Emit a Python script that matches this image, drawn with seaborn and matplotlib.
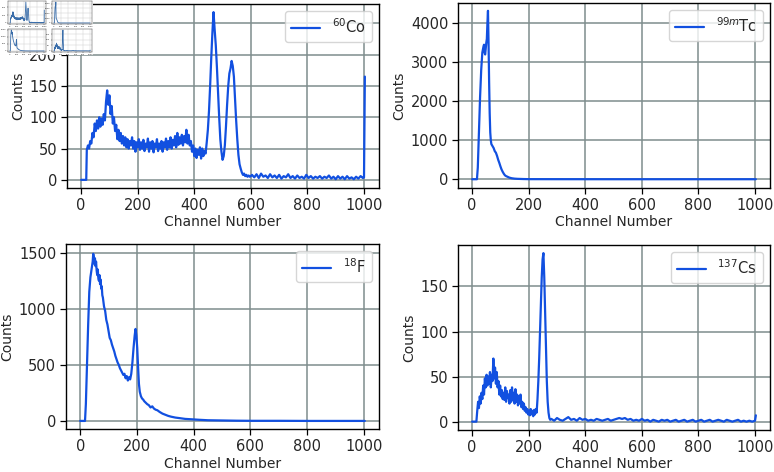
import numpy as np
import matplotlib
matplotlib.use("Agg")
import matplotlib.pyplot as plt
import seaborn as sns

# ---- Co-60 spectrum ----
co_channel = [0, 18, 20] + list(range(24, 601, 4)) + list(range(604, 1001, 8)) + [1000, 1003]
co_counts = [0, 0, 48,
             55, 50, 62, 58, 75, 68, 90, 78, 95, 82,
             100, 85, 98, 88, 105, 95, 125, 143, 120, 135,
             105, 118, 90, 100, 78, 88, 65, 80, 62, 75,
             58, 70, 55, 68, 52, 65, 50, 62, 55, 68,
             50, 62, 45, 60, 52, 65, 48, 60, 50, 64,
             46, 58, 52, 66, 45, 60, 50, 62, 44, 58,
             52, 65, 46, 58, 50, 62, 45, 60, 52, 66,
             48, 62, 52, 68, 50, 64, 55, 70, 52, 75,
             56, 68, 58, 72, 55, 70, 60, 80, 58, 72,
             55, 62, 45, 55, 38, 50, 35, 48, 40, 52,
             34, 50, 38, 46, 42, 60, 80, 110, 150, 195,
             235, 268, 240, 215, 180, 140, 100, 65, 45, 32,
             38, 55, 85, 120, 150, 170, 178, 190, 182, 165,
             130, 95, 65, 40, 25, 18, 12, 8, 10, 6,
             8, 5, 7, 5, 6,
             8, 4, 9, 3, 10, 5, 7, 3, 9, 4,
             7, 3, 8, 2, 6, 4, 9, 3, 6, 2,
             7, 3, 5, 2, 8, 3, 6, 2, 5, 3,
             6, 2, 5, 3, 7, 2, 5, 1, 6, 2,
             5, 1, 6, 2, 4, 1, 5, 2, 6, 3,
             4, 165]

# ---- Tc-99m spectrum ----
tc_channel = [0, 17, 20, 24, 28, 32, 36, 40, 42, 44, 46, 48, 50, 52, 54, 56, 58, 60, 62, 64,
              66, 68, 72, 76, 80, 84, 88, 92, 96, 100, 104, 108, 112, 116, 120, 126, 132, 140,
              150, 160, 180, 200, 300, 500, 1003]
tc_counts = [0, 0, 300, 1200, 2100, 2800, 3250, 3400, 3450, 3250, 3200, 3350, 3500, 3600, 4000,
             4320, 3500, 2500, 1700, 1200, 1000, 900, 850, 800, 720, 680, 600, 500, 420, 330,
             250, 190, 140, 100, 80, 60, 40, 25, 15, 10, 5, 2, 1, 0, 0]

# ---- F-18 spectrum ----
f_channel = [0, 17, 20, 24, 28, 32, 36, 40, 44, 46, 48, 50, 52, 54, 56, 58, 60, 62, 64, 66,
             68, 70, 72, 74, 76, 78, 80, 84, 88, 92, 96, 100, 104, 108, 112, 116, 120, 124, 128,
             132, 136, 140, 144, 148, 152, 156, 160, 164, 168, 172, 176, 180, 184, 188, 192, 195,
             198, 201, 204, 207, 210, 214, 218, 222, 226, 230, 236, 242, 248, 254, 260, 266, 272,
             280, 290, 300, 310, 320, 335, 350, 370, 390, 420, 450, 500, 550, 600, 700, 800, 1003]
f_counts = [0, 0, 150, 500, 850, 1150, 1280, 1350, 1420, 1490, 1460, 1400, 1450, 1380, 1420, 1340,
            1300, 1350, 1270, 1250, 1300, 1220, 1260, 1180, 1200, 1120, 1100, 1020, 980, 900, 860,
            800, 740, 720, 680, 650, 620, 580, 550, 520, 500, 470, 450, 430, 410, 420, 380, 400,
            360, 390, 370, 420, 520, 650, 760, 820, 760, 650, 480, 330, 260, 220, 200, 190, 175,
            165, 150, 140, 120, 130, 110, 100, 95, 80, 65, 55, 45, 38, 30, 25, 18, 15, 10, 6, 4,
            2, 1, 1, 0, 0]

# ---- Cs-137 spectrum ----
cs_channel = [0] + list(range(15, 279, 3)) + list(range(280, 1001, 10)) + [1003]
cs_counts = [0,
             0, 12, 22, 15, 28, 20, 32, 25, 40, 30,
             48, 38, 52, 40, 50, 42, 55, 38, 52, 45,
             70, 48, 60, 42, 55, 38, 45, 30, 40, 28,
             35, 25, 32, 24, 38, 22, 34, 26, 30, 20,
             35, 22, 38, 24, 32, 20, 36, 22, 30, 18,
             28, 20, 30, 16, 22, 14, 20, 12, 16, 10,
             14, 8, 12, 7, 14, 8, 12, 6, 13, 8,
             14, 10, 25, 45, 70, 100, 130, 160, 180, 187,
             160, 120, 80, 45, 22, 10, 4, 2,
             3, 1, 4, 2, 1, 3, 5, 2, 3, 1,
             4, 2, 3, 1, 2, 1, 3, 2, 1, 2,
             3, 1, 2, 3, 4, 3, 4, 2, 3, 1,
             2, 1, 3, 1, 2, 0, 2, 1, 0, 2,
             1, 2, 0, 1, 2, 0, 1, 2, 0, 1,
             2, 0, 1, 2, 0, 1, 2, 0, 1, 2,
             1, 0, 2, 1, 0, 1, 2, 0, 1, 0,
             1, 0, 1,
             7]

labels = [r"$^{60}$Co", r"$^{99m}$Tc", r"$^{18}$F", r"$^{137}$Cs"]
spectra = [(co_channel, co_counts), (tc_channel, tc_counts),
           (f_channel, f_counts), (cs_channel, cs_counts)]
ylims = [(-13, 281), (-225, 4520), (-72, 1577), (-9.3, 196)]

sns.set_theme(style="ticks")
plt.rcParams['font.family'] = ['DejaVu Sans']

W, H = 774, 472
fig = plt.figure(figsize=(W / 100, H / 100), dpi=100)
# axes boxes in pixels: left, top, right, bottom
boxes = [(67, 4, 379, 188), (458, 3, 770, 188), (66, 244, 379, 429), (458, 245, 770, 430)]

line_color = "#1250e0"
grid_color = "#7f8d8d"

for (x, y), lab, yl, (l, t, r, b) in zip(spectra, labels, ylims, boxes):
    ax = fig.add_axes([l / W, 1 - b / H, (r - l) / W, (b - t) / H])
    sns.lineplot(x=x, y=y, ax=ax, color=line_color, linewidth=1.6, label=lab,
                 estimator=None, sort=False)
    ax.set_xlim(-50, 1053)
    ax.set_ylim(*yl)
    ax.set_xticks([0, 200, 400, 600, 800, 1000])
    ax.grid(True, color=grid_color, linewidth=1.1)
    ax.set_axisbelow(True)
    ax.set_xlabel("Channel Number", fontsize=10, labelpad=2)
    ax.set_ylabel("Counts", fontsize=10, labelpad=3)
    ax.tick_params(labelsize=10.5, length=4, width=0.9, color="black", pad=3)
    for s in ax.spines.values():
        s.set_color("black")
        s.set_linewidth(1.0)
    ax.legend(loc="upper right", fontsize=10.5, fancybox=True, framealpha=0.8)

# small thumbnail stuck in the top-left corner
bg = fig.add_axes([0, 1 - 55 / H, 93 / W, 55 / H])
bg.set_facecolor("white")
bg.set_xticks([])
bg.set_yticks([])
for s in bg.spines.values():
    s.set_visible(False)
bg.set_zorder(10)
mini = [(8, 1, 46, 24), (52, 1, 92, 24), (8, 29, 46, 52), (52, 29, 92, 52)]
for (x, y), (l, t, r, b) in zip(spectra, mini):
    m = fig.add_axes([l / W, 1 - b / H, (r - l) / W, (b - t) / H])
    m.set_zorder(11)
    m.plot(x, y, color="#3b6eaa", linewidth=0.6)
    m.grid(True, color="#c8c8c8", linewidth=0.3)
    m.tick_params(labelsize=1.5, length=1, width=0.3, pad=0.5)
    for s in m.spines.values():
        s.set_linewidth(0.3)

fig.savefig("out.png", dpi=100)
